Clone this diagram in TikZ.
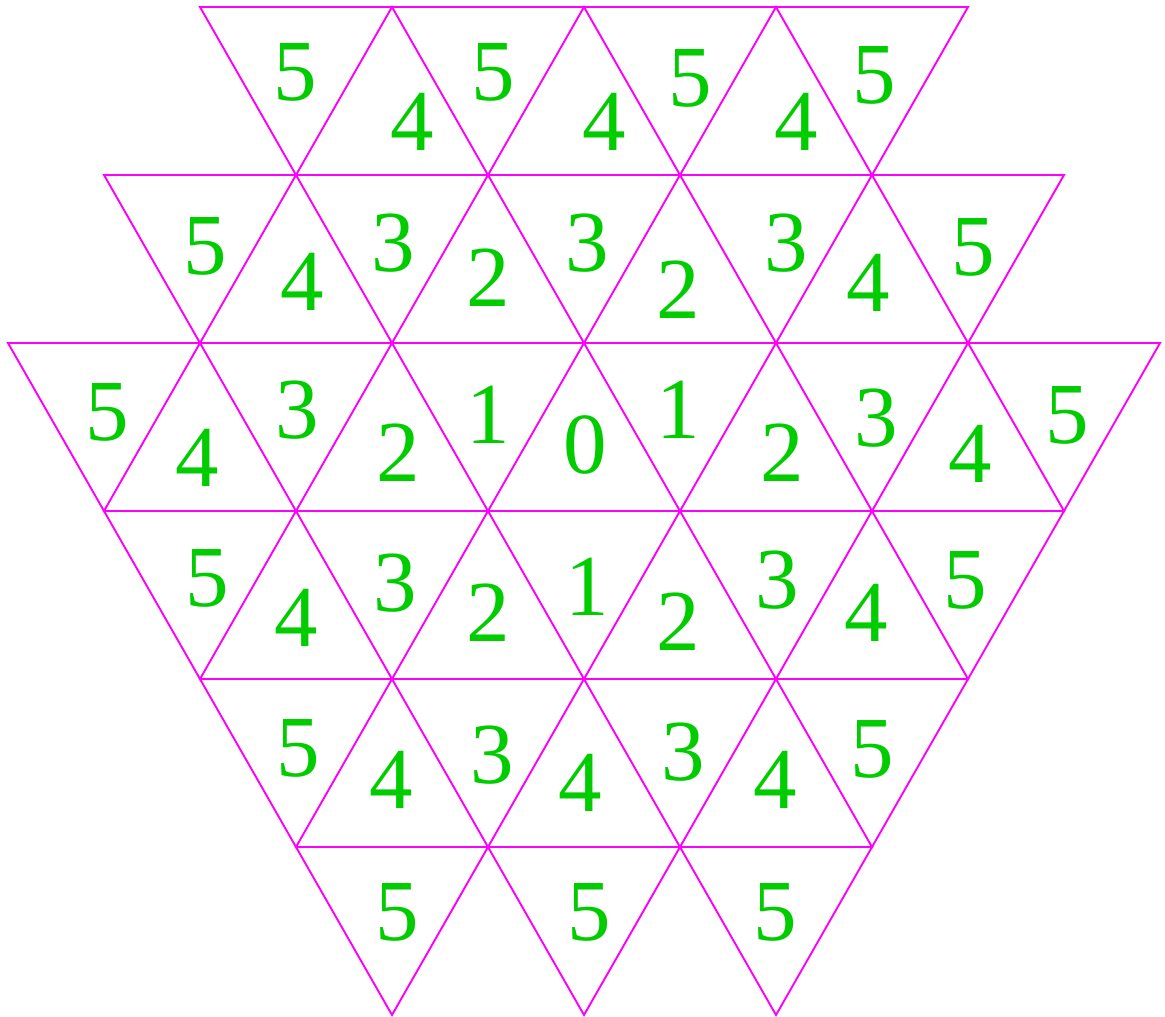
\documentclass[tikz,border=0pt]{standalone}
\usepackage{fontspec}
\setmainfont{Liberation Serif}
\usepackage{xcolor}
\usepackage{tikz}
\definecolor{numgreen}{RGB}{0,204,0}
\definecolor{gridpink}{RGB}{255,0,255}

\begin{document}
\begin{tikzpicture}[
    x=0.5pt, y=-0.5pt,
    grid/.style={draw=gridpink, line width=0.95pt, line join=miter},
    num/.style={text=numgreen, inner sep=0pt, font=\fontsize{43.5}{43.5}\selectfont}
]
\useasboundingbox (0,0) rectangle (1165,1016);

% Row 0
\draw[grid] (200,7) -- (968,7) -- (872,175) -- (776,7) -- (680,175) -- (584,7)
    -- (488,175) -- (392,7) -- (296,175) -- cycle;
% Row 1
\draw[grid] (104,175) -- (1064,175) -- (968,343) -- (872,175) -- (776,343) -- (680,175)
    -- (584,343) -- (488,175) -- (392,343) -- (296,175) -- (200,343) -- cycle;
% Row 2
\draw[grid] (8,343) -- (1160,343) -- (1064,511) -- (968,343) -- (872,511) -- (776,343)
    -- (680,511) -- (584,343) -- (488,511) -- (392,343) -- (296,511) -- (200,343)
    -- (104,511) -- cycle;
% Row 3
\draw[grid] (104,511) -- (1064,511) -- (968,679) -- (872,511) -- (776,679) -- (680,511)
    -- (584,679) -- (488,511) -- (392,679) -- (296,511) -- (200,679) -- cycle;
% Row 4
\draw[grid] (200,679) -- (968,679) -- (872,847) -- (776,679) -- (680,847) -- (584,679)
    -- (488,847) -- (392,679) -- (296,847) -- cycle;
% Row 5
\draw[grid] (296,847) -- (872,847) -- (776,1015) -- (680,847) -- (584,1015) -- (488,847)
    -- (392,1015) -- cycle;

% Labels, row 0
\node[num] (a1) at (295,72) {5};
\node[num] (a2) at (412,122) {4};
\node[num] (a3) at (493,72) {5};
\node[num] (a4) at (604,122) {4};
\node[num] (a5) at (690,78) {5};
\node[num] (a6) at (796,122) {4};
\node[num] (a7) at (874,75) {5};

% Labels, row 1
\node[num] (b1) at (205,246) {5};
\node[num] (b2) at (302,282) {4};
\node[num] (b3) at (393,243) {3};
\node[num] (b4) at (488,278) {2};
\node[num] (b5) at (587,243) {3};
\node[num] (b6) at (678,290) {2};
\node[num] (b7) at (786,243) {3};
\node[num] (b8) at (868,283) {4};
\node[num] (b9) at (973,247) {5};

% Labels, row 2
\node[num] (c1) at (107,412) {5};
\node[num] (c2) at (197,458) {4};
\node[num] (c3) at (297,410) {3};
\node[num] (c4) at (398,453) {2};
\node[num] (c5) at (488,415) {1};
\node[num] (c6) at (585,445) {0};
\node[num] (c7) at (678,410) {1};
\node[num] (c8) at (782,453) {2};
\node[num] (c9) at (876,418) {3};
\node[num] (c10) at (970,454) {4};
\node[num] (c11) at (1067,415) {5};

% Labels, row 3
\node[num] (d1) at (207,578) {5};
\node[num] (d2) at (296,618) {4};
\node[num] (d3) at (395,583) {3};
\node[num] (d4) at (488,613) {2};
\node[num] (d5) at (587,587) {1};
\node[num] (d6) at (678,622) {2};
\node[num] (d7) at (777,580) {3};
\node[num] (d8) at (866,613) {4};
\node[num] (d9) at (965,580) {5};

% Labels, row 4
\node[num] (e1) at (298,748) {5};
\node[num] (e2) at (391,780) {4};
\node[num] (e3) at (492,755) {3};
\node[num] (e4) at (580,783) {4};
\node[num] (e5) at (683,752) {3};
\node[num] (e6) at (775,780) {4};
\node[num] (e7) at (872,749) {5};

% Labels, row 5
\node[num] (f1) at (397,912) {5};
\node[num] (f2) at (589,912) {5};
\node[num] (f3) at (775,912) {5};

\end{tikzpicture}
\end{document}
